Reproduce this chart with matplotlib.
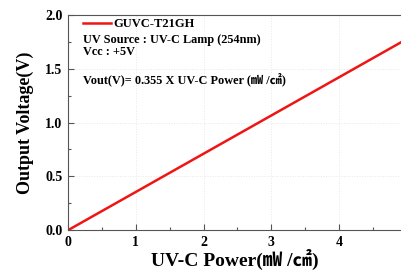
import matplotlib
matplotlib.use("Agg")
import matplotlib.pyplot as plt
from matplotlib.ticker import MultipleLocator

# data
power = [0.0, 4.93]        # mW/cm2
voltage = [0.0, 1.75]      # V
series_name = "GUVC-T21GH"
notes = ["UV Source : UV-C Lamp (254nm)", "Vcc : +5V",
         "Vout(V)= 0.355 X UV-C Power (\u33BD /\u33A0)"]
note_y = [0.884, 0.828, 0.702]

fam = ["Liberation Serif", "Noto Sans CJK KR", "DejaVu Sans"]
plt.rcParams['font.family'] = fam
plt.rcParams['font.weight'] = 'bold'

fig = plt.figure(figsize=(4.01, 2.72), dpi=100)
ax = fig.add_axes([0.170, 0.154, 0.832, 0.791])

ax.grid(True, which='major', color='#e8e8e8', linestyle=':', linewidth=0.7)
ax.plot(power, voltage, color='#f01515', lw=1.8, label=series_name)
ax.set_xlim(0, 4.93)
ax.set_ylim(0, 2.0)

ax.xaxis.set_major_locator(MultipleLocator(1))
ax.xaxis.set_minor_locator(MultipleLocator(0.5))
ax.yaxis.set_major_locator(MultipleLocator(0.5))
ax.yaxis.set_minor_locator(MultipleLocator(0.25))
ax.yaxis.set_major_formatter(plt.FormatStrFormatter('%.1f'))
ax.tick_params(which='both', direction='in', colors='#555555', labelcolor='black',
               labelsize=10, width=0.8, pad=4)
ax.tick_params(which='major', length=4)
ax.tick_params(which='minor', length=2)
for sp in ax.spines.values():
    sp.set_color('#555555')
    sp.set_linewidth(0.8)
for lab in ax.get_xticklabels() + ax.get_yticklabels():
    lab.set_fontweight('bold')

ax.set_xlabel("UV-C Power(\u33BD /\u33A0)", fontsize=14, fontweight='bold', labelpad=0)
ax.set_ylabel("Output Voltage(V)", fontsize=13, fontweight='bold', labelpad=8)

ax.legend(loc='center left', frameon=False, prop={'weight': 'bold', 'size': 9},
          handlelength=2.2, borderpad=0, borderaxespad=0, handletextpad=0.25,
          bbox_to_anchor=(0.045, 0.958))
for txt, y in zip(notes, note_y):
    ax.text(0.045, y, txt, transform=ax.transAxes, va='center', ha='left',
            fontsize=8.8, fontweight='bold')

fig.savefig("out.png", dpi=100)
